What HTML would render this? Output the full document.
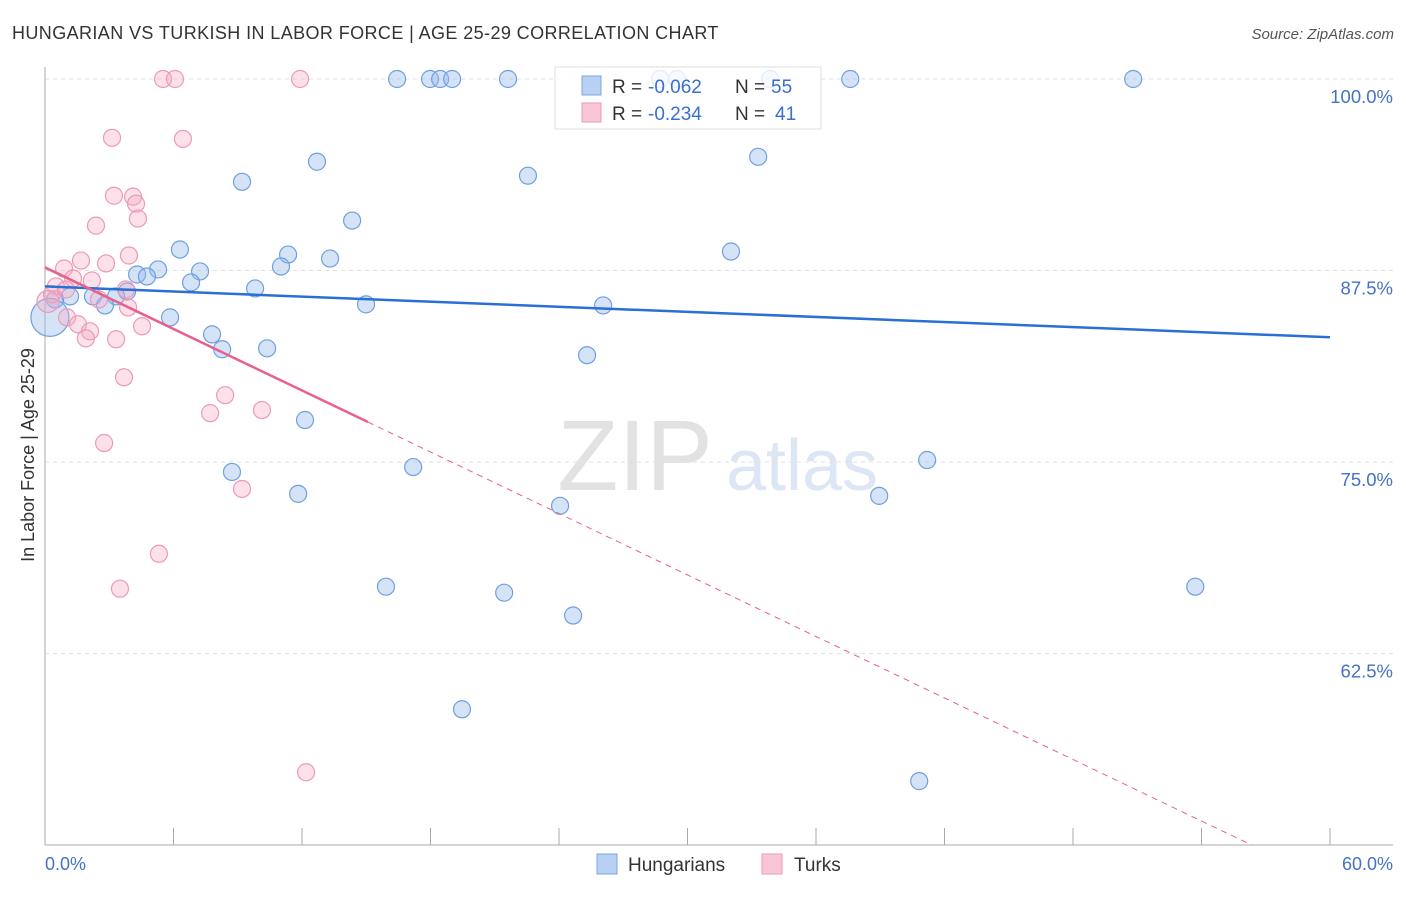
<!DOCTYPE html>
<html><head><meta charset="utf-8">
<style>
body{margin:0;background:#fff;font-family:"Liberation Sans",sans-serif;}
svg text{font-family:"Liberation Sans",sans-serif;}
</style></head>
<body>
<svg width="1406" height="892">
<text x="12" y="39" font-size="18" letter-spacing="0.4" fill="#333">HUNGARIAN VS TURKISH IN LABOR FORCE | AGE 25-29 CORRELATION CHART</text>
<text x="1394" y="39" font-size="15" fill="#555" font-style="italic" text-anchor="end">Source: ZipAtlas.com</text>
<text x="635" y="490" font-size="100" fill="#e2e2e2" font-family="Liberation Serif" text-anchor="middle">ZIP</text>
<text x="802" y="490" font-size="72" fill="#dde6f4" text-anchor="middle">atlas</text>
<g id="grid"></g>
<g id="axes"></g>
<g id="pts"></g>
<g id="trends"></g>
<text transform="translate(34,455) rotate(-90)" font-size="18" fill="#333" text-anchor="middle">In Labor Force | Age 25-29</text>
<text x="45" y="870" font-size="18" fill="#4472c4">0.0%</text>
<text x="1393" y="870" font-size="18" fill="#4472c4" text-anchor="end">60.0%</text>
<g>
<rect x="555" y="67" width="266" height="62" fill="#fff" fill-opacity="0.8" stroke="#ddd"/>
<rect x="582" y="76" width="19" height="19" fill="#b8d0f4" stroke="#7fa6e0"/>
<rect x="582" y="103" width="19" height="19" fill="#f9c6d6" stroke="#ee99b4"/>
<text x="612" y="93" font-size="19" fill="#333">R =</text>
<text x="648" y="93" font-size="19" fill="#3a6fd0">-0.062</text>
<text x="735" y="93" font-size="19" fill="#333">N =</text>
<text x="771" y="93" font-size="19" fill="#3a6fd0">55</text>
<text x="612" y="120" font-size="19" fill="#333">R =</text>
<text x="648" y="120" font-size="19" fill="#3a6fd0">-0.234</text>
<text x="735" y="120" font-size="19" fill="#333">N =</text>
<text x="775" y="120" font-size="19" fill="#3a6fd0">41</text>
</g>
<g>
<rect x="597" y="854" width="20" height="20" fill="#b8d0f4" stroke="#7fa6e0"/>
<text x="628" y="871" font-size="19" fill="#333">Hungarians</text>
<rect x="762" y="854" width="20" height="20" fill="#f9c6d6" stroke="#ee99b4"/>
<text x="794" y="871" font-size="19" fill="#333">Turks</text>
</g>
</svg>
<script>
const yTicks=[100,87.5,75,62.5];
const yTickLabels=["100.0%","87.5%","75.0%","62.5%"];
const hunX=[16.44,17.98,18.45,19.01,21.62,28.72,29.51,33.86,37.6,50.81,12.70,9.20,22.55,33.30,14.34,6.30,32.03,11.35,13.31,5.28,7.24,4.30,4.76,11.02,6.82,9.81,3.83,2.24,1.17,0.47,3.32,2.80,14.99,26.06,5.84,7.80,8.27,10.37,25.31,12.14,8.73,17.19,41.19,11.82,24.05,38.95,15.92,21.44,24.66,53.71,19.47,40.82,0.23];
const hunY=[100,100,100,100,100,100,100,100,100,100,94.60,93.29,93.69,94.92,90.76,88.87,88.74,88.54,88.28,87.57,87.44,87.24,87.11,87.76,86.72,86.33,86.13,85.81,85.81,85.61,85.81,85.22,85.29,85.22,84.44,83.33,82.36,82.42,81.97,77.74,74.35,74.67,75.13,72.92,72.14,72.79,66.86,66.47,64.98,66.86,58.86,54.17,84.44];
const turX=[5.51,6.07,11.91,3.13,6.44,3.22,4.11,4.25,4.34,2.38,3.92,1.68,2.85,0.89,1.31,2.19,0.51,0.33,0.98,3.78,2.52,3.88,1.03,1.54,4.53,2.10,1.91,3.32,3.69,8.41,7.71,10.13,2.76,9.20,5.32,3.50,12.19,0.14];
const turY=[100,100,100,96.16,96.09,92.38,92.32,91.86,90.89,90.43,88.48,88.15,87.96,87.63,86.98,86.85,86.46,85.94,86.26,86.26,85.61,85.09,84.44,83.99,83.86,83.53,83.07,83.01,80.53,79.36,78.19,78.39,76.24,73.24,69.01,66.73,54.75,85.48];
const hunTrend=[86.46,83.14];
const turTrend=[87.70,47.55];
const turSolidEnd=15.08;
const NS="http://www.w3.org/2000/svg";
const X=v=>45+v/60*1285, Y=v=>79+(100-v)*15.32;
function mk(p,t,a){const e=document.createElementNS(NS,t);for(const k in a)e.setAttribute(k,a[k]);p.appendChild(e);return e;}
const grid=document.getElementById('grid'),axes=document.getElementById('axes'),pts=document.getElementById('pts'),tr=document.getElementById('trends');
yTicks.forEach((t,i)=>{
 const l=mk(grid,'line',{x1:45,x2:1393,y1:Y(t),y2:Y(t),stroke:'#e2e2e2','stroke-dasharray':'4,4'});
 
 
 const tx=mk(grid,'text',{x:1393,y:Y(t)+24,'font-size':18.5,fill:'#4472c4','text-anchor':'end'});
 tx.textContent=yTickLabels[i];
 
 
});
const ya=mk(axes,'line',{x1:45,x2:45,y1:67,y2:845,stroke:'#aaa'});


const xa=mk(axes,'line',{x1:45,x2:1393,y1:845,y2:845,stroke:'#aaa'});


for(let i=0;i<=10;i++){const t=mk(axes,'line',{x1:X(i*6),x2:X(i*6),y1:828,y2:845,stroke:'#aaa'});
 
 }
hunX.forEach((x,i)=>{const c=mk(pts,'circle',{cx:X(x),cy:Y(hunY[i]),r:i==hunX.length-1?19:8.5,fill:'rgba(150,185,235,0.4)',stroke:'#6f9fe0','stroke-width':1.2});
 
 });
turX.forEach((x,i)=>{const c=mk(pts,'circle',{cx:X(x),cy:Y(turY[i]),r:i==turX.length-1?11:8.5,fill:'rgba(245,170,195,0.35)',stroke:'#ec9ab5','stroke-width':1.2});
 
 });
const hl=mk(tr,'line',{x1:X(0),y1:Y(hunTrend[0]),x2:X(60),y2:Y(hunTrend[1]),stroke:'#2a6fd6','stroke-width':2.5});


const ty=x=>turTrend[0]+(turTrend[1]-turTrend[0])*x/60;
const tl=mk(tr,'line',{x1:X(0),y1:Y(ty(0)),x2:X(turSolidEnd),y2:Y(ty(turSolidEnd)),stroke:'#e8608e','stroke-width':2.5});


const xEnd=(50-turTrend[0])/(turTrend[1]-turTrend[0])*60;
const td=mk(tr,'line',{x1:X(turSolidEnd),y1:Y(ty(turSolidEnd)),x2:X(xEnd),y2:Y(50),stroke:'#e8608e','stroke-width':1,'stroke-dasharray':'6,5'});


</script>
</body></html>
